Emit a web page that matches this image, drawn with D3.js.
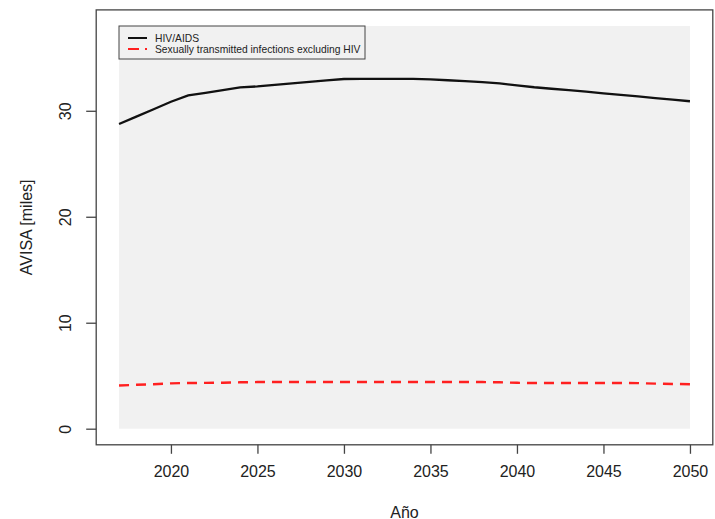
<!DOCTYPE html>
<html><head><meta charset="utf-8">
<script src="https://cdn.jsdelivr.net/npm/d3@7"></script>
<style>body{margin:0;background:#fff}svg{display:block}text{font-family:"Liberation Sans",Arial,sans-serif}</style>
</head><body>
<svg id="c" width="715" height="519"></svg>
<script>
const years = [2017,2018,2019,2020,2021,2022,2023,2024,2025,2026,2027,2028,2029,2030,2031,2032,2033,2034,2035,2036,2037,2038,2039,2040,2041,2042,2043,2044,2045,2046,2047,2048,2049,2050];
const hiv = [28.75,29.45,30.15,30.85,31.45,31.7,31.95,32.2,32.3,32.45,32.58,32.72,32.86,33.0,33.02,33.02,33.02,33.02,32.96,32.88,32.8,32.7,32.58,32.4,32.22,32.08,31.95,31.8,31.65,31.5,31.35,31.2,31.05,30.9];
const sti = [4.08,4.14,4.2,4.28,4.31,4.32,4.34,4.38,4.4,4.4,4.4,4.4,4.4,4.4,4.4,4.4,4.4,4.4,4.4,4.4,4.4,4.4,4.38,4.33,4.31,4.31,4.31,4.31,4.31,4.31,4.3,4.25,4.22,4.2];
const xTicks = [2020,2025,2030,2035,2040,2045,2050];
const yTicks = [0,10,20,30];
const seriesNames = ["HIV/AIDS","Sexually transmitted infections excluding HIV"];
const yMaxBg = 38;

const svg = d3.select("#c");
const x = d3.scaleLinear().domain([2015.68, 2051.32]).range([96.2, 712.8]);
const y = d3.scaleLinear().domain([-1.52, 39.52]).range([444.8, 9.9]);

// background rect
svg.append("rect").attr("x", x(2017)).attr("y", y(yMaxBg))
  .attr("width", x(2050)-x(2017)).attr("height", y(0)-y(yMaxBg)).attr("fill", "#f1f1f1");

const line = d3.line().x((d,i)=>x(years[i])).y(d=>y(d));
svg.append("path").datum(hiv).attr("d", line).attr("fill","none").attr("stroke","#111").attr("stroke-width",2.3);
svg.append("path").datum(sti).attr("d", line).attr("fill","none").attr("stroke","#ff2020").attr("stroke-width",2.4).attr("stroke-dasharray","10,7");

// box
svg.append("rect").attr("x", x.range()[0]).attr("y", y.range()[1]).attr("width", x.range()[1]-x.range()[0])
  .attr("height", y.range()[0]-y.range()[1]).attr("fill","none").attr("stroke","#444").attr("stroke-width",1.3);

// x axis
const xa = svg.append("g").attr("transform", `translate(0,${y.range()[0]})`)
  .call(d3.axisBottom(x).tickValues(xTicks).tickFormat(d3.format("d")).tickSize(9).tickPadding(12));
xa.select(".domain").remove();
xa.selectAll("line").attr("stroke","#444").attr("stroke-width",1.3);
xa.selectAll("text").attr("font-size",16).attr("fill","#222").attr("font-family","Liberation Sans, Arial, sans-serif");

// y axis
const ya = svg.append("g").attr("transform", `translate(${x.range()[0]},0)`)
  .call(d3.axisLeft(y).tickValues(yTicks).tickSize(10).tickFormat(d3.format("d")));
ya.select(".domain").remove();
ya.selectAll("line").attr("stroke","#444").attr("stroke-width",1.3);
ya.selectAll("text").attr("font-size",16).attr("fill","#222").attr("font-family","Liberation Sans, Arial, sans-serif")
  .attr("x",null).attr("dy",null).attr("text-anchor","middle").attr("dominant-baseline","central")
  .attr("transform","translate(-31,0) rotate(-90)");

// axis titles
svg.append("text").attr("x", (x.range()[0]+x.range()[1])/2).attr("y", 512).attr("text-anchor","middle")
  .attr("dominant-baseline","central").attr("font-size",16).attr("fill","#222").text("Año");
svg.append("text").attr("transform", `translate(26,${(y.range()[0]+y.range()[1])/2}) rotate(-90)`)
  .attr("text-anchor","middle").attr("dominant-baseline","central").attr("font-size",16).attr("fill","#222").text("AVISA [miles]");

// legend
const lg = svg.append("g");
lg.append("rect").attr("x",119).attr("y",26).attr("width",246).attr("height",33).attr("fill","none").attr("stroke","#444").attr("stroke-width",1);
const colors = ["#111","#ff2020"], dashes = [null,"11,6"];
seriesNames.forEach((n,i)=>{
  const yy = 38 + i*11;
  lg.append("line").attr("x1",128).attr("x2",147).attr("y1",yy).attr("y2",yy).attr("stroke",colors[i]).attr("stroke-width",2).attr("stroke-dasharray",dashes[i]);
  lg.append("text").attr("x",155).attr("y",yy).attr("dominant-baseline","central").attr("font-size",10.3).attr("fill","#222").text(n);
});
</script>
</body></html>
